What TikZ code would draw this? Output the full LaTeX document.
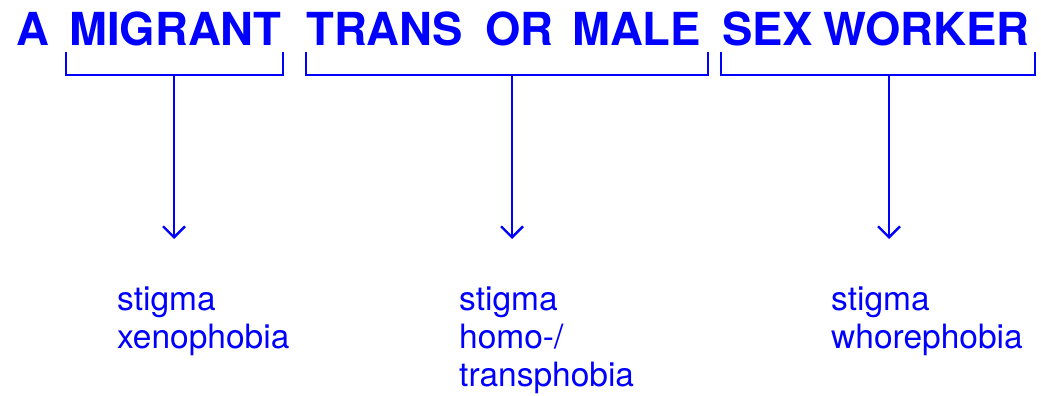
\documentclass[tikz,border=0pt]{standalone}
\usepackage{fontspec}
\setmainfont{TeX Gyre Heros}
\usetikzlibrary{arrows.meta}
\definecolor{ink}{RGB}{0,0,255}
\tikzset{
  word/.style={anchor=base west, inner sep=0pt, text=ink, font=\fontsize{45.5}{45.5}\selectfont\bfseries},
  lbl/.style={anchor=base west, inner sep=0pt, text=ink, align=left, font=\fontsize{33.5}{38}\selectfont},
  brace/.style={draw=ink, line width=2.4pt, line join=miter},
  stem/.style={draw=ink, line width=2.4pt, -{Straight Barb[length=11pt,width=22pt]}}
}
\begin{document}
\begin{tikzpicture}[x=1pt,y=-1pt]
\useasboundingbox (0,0) rectangle (1041,396);
% title words
\node[word] (wA) at (16,46) {A};
\node[word] (wMigrant) at (69,46) {MIGRANT};
\node[word] (wTrans) at (306,46) {TRANS};
\node[word] (wOr) at (485,46) {OR};
\node[word] (wMale) at (572,46) {MALE};
\node[word] (wSex) at (722,46) {SEX};
\node[word] (wWorker) at (823,46) {WORKER};
% brackets
\coordinate (b1l) at (66,52);  \coordinate (b1r) at (283,52);
\coordinate (b2l) at (306,52); \coordinate (b2r) at (708,52);
\coordinate (b3l) at (721,52); \coordinate (b3r) at (1035,52);
\draw[brace] (b1l) -- ++(0,23) -| (b1r);
\draw[brace] (b2l) -- ++(0,23) -| (b2r);
\draw[brace] (b3l) -- ++(0,23) -| (b3r);
% stems and arrow tips
\coordinate (s1) at (174,75);  \coordinate (t1) at (174,239);
\coordinate (s2) at (512,75);  \coordinate (t2) at (512,239);
\coordinate (s3) at (889,75);  \coordinate (t3) at (889,239);
\draw[stem] (s1) -- (t1);
\draw[stem] (s2) -- (t2);
\draw[stem] (s3) -- (t3);
% labels (anchored at the baseline of their last line)
\node[lbl] (l1) at (117,348) {stigma\\xenophobia};
\node[lbl] (l2) at (459,386) {stigma\\homo-/\\transphobia};
\node[lbl] (l3) at (831,348) {stigma\\whorephobia};
\end{tikzpicture}
\end{document}
